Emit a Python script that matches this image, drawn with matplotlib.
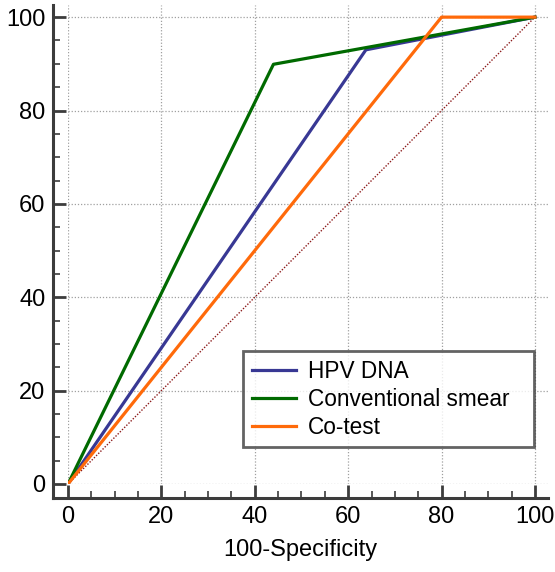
import matplotlib.pyplot as plt
from matplotlib.ticker import MultipleLocator

plt.rcParams['font.family'] = ['Liberation Sans', 'DejaVu Sans']

# ROC points (100-Specificity, Sensitivity)
hpv_x = [0, 63.8, 100]
hpv_y = [0, 93.0, 100]
smear_x = [0, 44.0, 100]
smear_y = [0, 89.9, 100]
cotest_x = [0, 80.0, 100]
cotest_y = [0, 100, 100]
diag = [0, 100]

labels = ['HPV DNA', 'Conventional smear', 'Co-test']
colors = ['#383894', '#006a00', '#ff6a0a']

fig = plt.figure(figsize=(5.55, 5.72), dpi=100)
ax = fig.add_axes([68 / 555, 88 / 572, 480 / 555, 479 / 572])

ax.plot(diag, diag, color='#8b1a1a', lw=1.0, ls=(0, (1, 1.2)), zorder=2)
l1, = ax.plot(hpv_x, hpv_y, color=colors[0], lw=2.3, zorder=3)
l2, = ax.plot(smear_x, smear_y, color=colors[1], lw=2.3, zorder=4)
l3, = ax.plot(cotest_x, cotest_y, color=colors[2], lw=2.3, zorder=5)

ax.set_xlim(0, 102.8)
ax.set_ylim(0, 102.6)

for s in ['top', 'right']:
    ax.spines[s].set_visible(False)
ax.spines['left'].set_position(('outward', 10.8))
ax.spines['bottom'].set_position(('outward', 10.1))
ax.spines['bottom'].set_bounds(-3.2, 102.8)
ax.spines['left'].set_bounds(-3.0, 102.6)
for s in ['left', 'bottom']:
    ax.spines[s].set_color('#3c3c3c')
    ax.spines[s].set_linewidth(2.2)

ax.xaxis.set_major_locator(MultipleLocator(20))
ax.yaxis.set_major_locator(MultipleLocator(20))
ax.xaxis.set_minor_locator(MultipleLocator(5))
ax.yaxis.set_minor_locator(MultipleLocator(5))
ax.tick_params(which='major', direction='in', length=9.5, width=2.0,
               color='#3c3c3c', labelsize=17, pad=5.5)
ax.tick_params(which='minor', direction='in', length=5, width=1.2,
               color='#3c3c3c')

ax.grid(True, which='major', color='#a0a0a0', ls=(0, (1, 1.5)), lw=0.9)
ax.set_axisbelow(True)

ax.set_xlabel('100-Specificity', fontsize=17)
ax.xaxis.set_label_coords(0.485, -0.115)

leg = ax.legend([l1, l2, l3], labels, loc='upper left', mode='expand',
                bbox_to_anchor=((243 - 68) / 480, (484 - 351) / 479,
                                (534 - 243) / 480, 0.0),
                fontsize=16.3, frameon=True, fancybox=False,
                handlelength=1.95, handletextpad=0.55, labelspacing=0.22,
                borderpad=0.38, borderaxespad=0)
leg.get_frame().set_edgecolor('#3c3c3c')
leg.get_frame().set_linewidth(2.0)

fig.savefig('out.png', dpi=100)
